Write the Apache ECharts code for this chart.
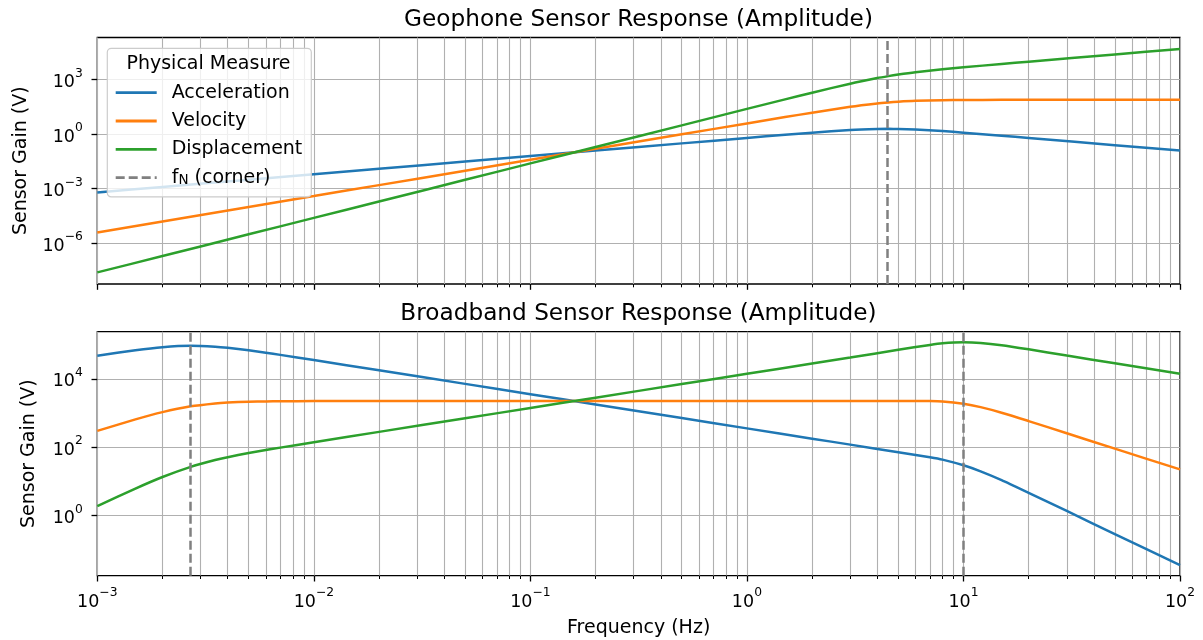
<!DOCTYPE html>
<html><head><meta charset="utf-8">
<script src="https://cdn.jsdelivr.net/npm/echarts@6/dist/echarts.min.js"></script>
<style>html,body{margin:0;padding:0;background:#fff}#c{width:1203px;height:640px}</style>
</head><body><div id="c"></div><script>
// ---------------- data ----------------
const geoTitle = 'Geophone Sensor Response (Amplitude)';
const bbTitle = 'Broadband Sensor Response (Amplitude)';
const seriesNames = ['Acceleration', 'Velocity', 'Displacement', 'fN (corner)'];

// Geophone (top)
const geoFreq = [0.001, 0.002, 0.005, 0.01, 0.02, 0.05, 0.1, 0.2, 0.5, 1, 1.5, 2, 3, 4, 4.5, 5, 6, 8, 10, 15, 20, 50, 100];
const geoAcc  = [6.17e-4, 1.24e-3, 3.10e-3, 6.17e-3, 1.24e-2, 3.10e-2, 6.17e-2, 0.124, 0.310, 0.617, 0.923, 1.21, 1.69, 1.93, 1.95, 1.93, 1.80, 1.48, 1.21, 0.820, 0.617, 0.247, 0.124];
const geoVel  = [3.89e-6, 1.56e-5, 9.73e-5, 3.89e-4, 1.56e-3, 9.73e-3, 3.89e-2, 0.156, 0.973, 3.89, 8.69, 15.2, 31.9, 48.5, 55.2, 60.7, 67.9, 74.1, 76.2, 77.3, 77.4, 77.6, 77.6];
const geoDisp = [2.45e-8, 1.95e-7, 3.05e-6, 2.45e-5, 1.95e-4, 3.05e-3, 2.45e-2, 0.195, 3.05, 24.5, 81.8, 191, 601, 1219, 1560, 1905, 2559, 3724, 4786, 7278, 9727, 24380, 48750];
const geoCorners = [4.47];

// Broadband (bottom)
const bbFreq = [0.001, 0.0015, 0.002, 0.0027, 0.0035, 0.004, 0.005, 0.006, 0.007, 0.01, 0.02, 0.05, 0.1, 0.2, 0.5, 1, 2, 3, 5, 7, 8, 10, 12, 15, 20, 30, 50, 100];
const bbAcc  = [47750, 69180, 84720, 92680, 87100, 80910, 68390, 58210, 50350, 35560, 17820, 7129, 3565, 1782, 713, 356, 178, 119, 71.6, 50.9, 43.4, 29.6, 19.7, 10.9, 4.63, 1.36, 0.288, 0.0356];
const bbVel  = [300, 652, 1064, 1570, 1914, 2032, 2148, 2193, 2213, 2234, 2240, 2240, 2240, 2240, 2240, 2240, 2240, 2240, 2250, 2240, 2183, 1862, 1486, 1023, 582, 255, 90.6, 22.4];
const bbDisp = [1.88, 6.14, 13.4, 26.6, 42.1, 51.1, 67.5, 82.6, 97.2, 140, 281, 703, 1406, 2812, 7031, 14070, 28140, 42200, 70690, 98500, 109700, 117000, 112000, 96400, 73100, 48080, 28460, 14070];
const bbCorners = [0.00272, 10];

// axes (log10 exponents)
const xRange = [-3, 2];
const xMajorExp = [-3, -2, -1, 0, 1, 2];
const xMinorMult = [2, 3, 4, 5, 6, 7, 8, 9];
const geoYRange = [-8.25, 5.32];
const geoYTicks = [-6, -3, 0, 3];
const bbYRange = [-1.76, 5.38];
const bbYTicks = [0, 2, 4];

// ---------------- chart ----------------
const FONT = 'DejaVu Sans';
const COLORS = ['#1f77b4', '#ff7f0e', '#2ca02c'];
const GRID_COLOR = '#b0b0b0';
const lg = Math.log10;

const xMinor = [];
for (let e = xRange[0]; e < xRange[1]; e++) xMinorMult.forEach(m => xMinor.push(lg(m * Math.pow(10, e))));

function powLabel(v) {
  const e = Math.round(v);
  const s = e < 0 ? '\u2212' + (-e) : String(e);
  return '{b|10}{s|' + s + '}';
}
const tickRich = {
  b: { fontFamily: FONT, fontSize: 17.5, lineHeight: 24, verticalAlign: 'bottom', color: '#000' },
  s: { fontFamily: FONT, fontSize: 12.3, lineHeight: 15, verticalAlign: 'top', color: '#000' }
};

function toData(freq, vals) { return freq.map((f, i) => [lg(f), lg(vals[i])]); }

const grids = [
  { left: 97.3, top: 37.5, width: 1082.7, height: 246.5, show: true, borderColor: '#000', borderWidth: 1.3, backgroundColor: 'transparent' },
  { left: 97.3, top: 331.7, width: 1082.7, height: 244, show: true, borderColor: '#000', borderWidth: 1.3, backgroundColor: 'transparent' }
];

function majorX(gi, labels) {
  return {
    type: 'value', gridIndex: gi, position: 'bottom', min: xRange[0], max: xRange[1], interval: 1,
    axisLine: { show: false, onZero: false },
    axisTick: { show: true, customValues: xMajorExp, length: 5.8, lineStyle: { color: '#000', width: 1.3 } },
    axisLabel: labels ? { show: true, customValues: xMajorExp, formatter: powLabel, rich: tickRich, margin: 11.5 } : { show: false },
    splitLine: { show: true, lineStyle: { color: GRID_COLOR, width: 1.1 } },
    name: labels ? 'Frequency (Hz)' : '', nameLocation: 'middle', nameGap: 42.3,
    nameTextStyle: { fontFamily: FONT, fontSize: 19, lineHeight: 20, color: '#000', verticalAlign: 'top' }
  };
}
function minorX(gi) {
  return {
    type: 'value', gridIndex: gi, position: 'bottom', min: xRange[0], max: xRange[1],
    axisLine: { show: false, onZero: false },
    axisTick: { show: true, customValues: xMinor, length: 3.3, lineStyle: { color: '#000', width: 1.0 } },
    axisLabel: { show: false },
    splitLine: { show: true, lineStyle: { color: GRID_COLOR, width: 1.1 } }
  };
}
function yAxis(gi, range, ticks, gap) {
  return {
    type: 'value', gridIndex: gi, position: 'left', min: range[0], max: range[1],
    axisLine: { show: false, onZero: false },
    axisTick: { show: true, customValues: ticks, length: 5.8, lineStyle: { color: '#000', width: 1.3 } },
    axisLabel: { show: true, customValues: ticks, formatter: powLabel, rich: tickRich, margin: 14.5 },
    splitLine: { show: true, lineStyle: { color: GRID_COLOR, width: 1.1 } },
    name: 'Sensor Gain (V)', nameLocation: 'middle', nameGap: gap,
    nameTextStyle: { fontFamily: FONT, fontSize: 19, lineHeight: 20, color: '#000' }
  };
}

function curves(gi, freq, arrs, corners) {
  const xi = gi === 0 ? 0 : 2;
  const out = arrs.map((a, k) => ({
    name: seriesNames[k], type: 'line', xAxisIndex: xi, yAxisIndex: gi,
    data: toData(freq, a), showSymbol: false, symbol: 'none', smooth: 0.2,
    lineStyle: { color: COLORS[k], width: 2.5 }, itemStyle: { color: COLORS[k], opacity: 0 }, z: 3
  }));
  out.push({
    name: seriesNames[3], type: 'line', xAxisIndex: xi, yAxisIndex: gi, data: [],
    symbol: 'none', showSymbol: false,
    lineStyle: { color: '#808080', width: 2.5, type: [9, 4] }, itemStyle: { color: '#808080', opacity: 0 }, z: 4,
    markLine: {
      silent: true, symbol: 'none', label: { show: false },
      lineStyle: { color: '#808080', width: 2.5, type: [9, 4], opacity: 1 },
      emphasis: { disabled: true },
      data: corners.map(c => ({ xAxis: lg(c) }))
    }
  });
  return out;
}

const chart = echarts.init(document.getElementById('c'), null, { renderer: 'canvas' });
chart.setOption({
  animation: false,
  backgroundColor: '#fff',
  title: [
    { text: geoTitle, left: 638.5, textAlign: 'center', top: 8.3, padding: 0,
      textStyle: { fontFamily: FONT, fontSize: 23.2, fontWeight: 'normal', color: '#000', lineHeight: 24 } },
    { text: bbTitle, left: 638.5, textAlign: 'center', top: 301.5, padding: 0,
      textStyle: { fontFamily: FONT, fontSize: 23.2, fontWeight: 'normal', color: '#000', lineHeight: 24 } },
    { text: 'Physical Measure', left: 208.5, textAlign: 'center', top: 54.3, padding: 0, z: 10,
      textStyle: { fontFamily: FONT, fontSize: 19, fontWeight: 'normal', color: '#000', lineHeight: 20 } }
  ],
  legend: {
    data: seriesNames, orient: 'vertical', left: 107.3, top: 48.3,
    padding: [34.4, 9, 9.3, 7], itemWidth: 41, itemHeight: 14, itemGap: 8.3,
    backgroundColor: 'rgba(255,255,255,0.8)', borderColor: '#cccccc', borderWidth: 1.2, borderRadius: 4,
    selectedMode: false, z: 8,
    itemStyle: { opacity: 0 },
    lineStyle: { width: 2.8 },
    formatter: n => n === 'fN (corner)' ? 'f{sub|N} (corner)' : n,
    textStyle: { fontFamily: FONT, fontSize: 19, lineHeight: 20, color: '#000', padding: [0, 0, 0, 10],
      rich: { sub: { fontFamily: FONT, fontSize: 13.5, lineHeight: 8, verticalAlign: 'bottom', color: '#000' } } }
  },
  grid: grids,
  xAxis: [majorX(0, false), minorX(0), majorX(1, true), minorX(1)],
  yAxis: [yAxis(0, geoYRange, geoYTicks, 65.8), yAxis(1, bbYRange, bbYTicks, 57.8)],
  series: [].concat(
    curves(0, geoFreq, [geoAcc, geoVel, geoDisp], geoCorners),
    curves(1, bbFreq, [bbAcc, bbVel, bbDisp], bbCorners)
  )
});
</script></body></html>
